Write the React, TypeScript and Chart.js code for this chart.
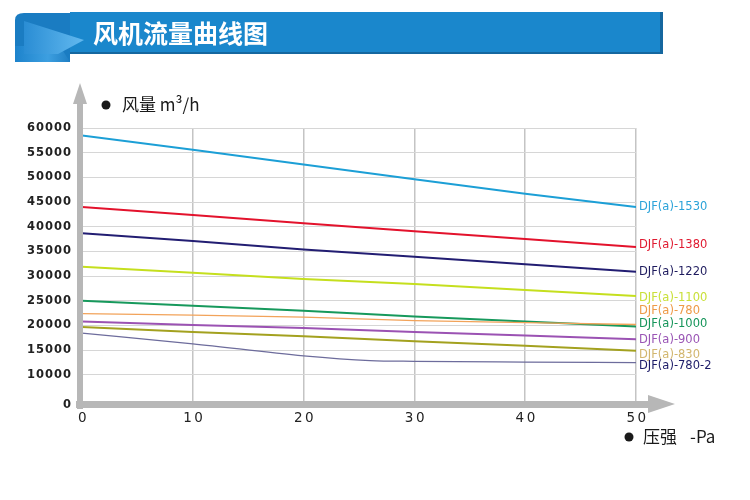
import React, { useEffect, useRef } from 'react';
import { Chart, registerables } from 'chart.js';

Chart.register(...registerables);

// ---------- data ----------
const pressure = [0, 10, 20, 30, 40, 50];
const pressure7802 = [0, 10, 20, 26, 30, 40, 50];

const seriesNames = [
  'DJF(a)-1530',
  'DJF(a)-1380',
  'DJF(a)-1220',
  'DJF(a)-1100',
  'DJF(a)-780',
  'DJF(a)-1000',
  'DJF(a)-900',
  'DJF(a)-830',
  'DJF(a)-780-2',
];

const flow1530 = [58500, 55600, 52600, 49600, 46700, 44000];
const flow1380 = [44000, 42400, 40700, 39100, 37500, 35900];
const flow1220 = [38700, 37100, 35400, 33900, 32400, 30900];
const flow1100 = [31900, 30700, 29400, 28400, 27200, 26000];
const flow780 = [22400, 22100, 21700, 21000, 20600, 20200];
const flow1000 = [25000, 24000, 23000, 21800, 20800, 19800];
const flow900 = [20800, 20100, 19500, 18700, 18000, 17200];
const flow830 = [19700, 18700, 17800, 16800, 15900, 14900];
const flow7802 = [18450, 16300, 13850, 12900, 12750, 12600, 12500];

const yTickValues = [10000, 15000, 20000, 25000, 30000, 35000, 40000, 45000, 50000, 55000, 60000];
const yZeroLabel = '0';
const yAxisBottom = 3900; // value at which the "0" label sits
const xTickValues = [0, 10, 20, 30, 40, 50];

const titleText = '风机流量曲线图';
const yTitle = '风量 m³/h';
const xTitleMain = '压强';
const xTitleUnit = '-Pa';

// ---------- styles ----------
const lineColors = ['#1c9fd6', '#e3122c', '#221d72', '#c5df1e', '#f2a35a', '#17995c', '#9b52b3', '#a3a11f', '#6d6c9c'];
const labelColors = ['#2ba3d9', '#e01a30', '#1e1b5e', '#c9e03a', '#ee9a48', '#16955a', '#9a55b5', '#d2b66e', '#1c1b68'];
const lineWidths = [2, 2, 2, 2, 1.3, 2, 2, 2, 1.3];
const labelOffsets = [0, -2, 0, 2, -14, -2, 1, 4, 3];

const decorPlugin = {
  id: 'decor',
  beforeDraw(chart: any) {
    const ctx = chart.ctx;
    ctx.save();
    ctx.fillStyle = '#ffffff';
    ctx.fillRect(0, 0, chart.width, chart.height);

    // left fold (behind)
    ctx.fillStyle = '#1a7cc2';
    ctx.beginPath();
    ctx.moveTo(15, 20);
    ctx.quadraticCurveTo(15, 13, 24, 13);
    ctx.lineTo(70, 13);
    ctx.lineTo(70, 62);
    ctx.lineTo(15, 62);
    ctx.closePath();
    ctx.fill();

    // banner main bar
    ctx.fillStyle = '#1a87cc';
    ctx.fillRect(70, 12, 593, 42);
    ctx.fillStyle = '#15679f';
    ctx.fillRect(660, 12, 3, 42);
    ctx.fillRect(70, 52, 593, 2);

    // lower fold strip
    const g2 = ctx.createLinearGradient(15, 0, 70, 0);
    g2.addColorStop(0, '#1d83cc');
    g2.addColorStop(0.6, '#3d9fe0');
    g2.addColorStop(1, '#1f7fc4');
    ctx.fillStyle = g2;
    ctx.beginPath();
    ctx.moveTo(15, 46);
    ctx.lineTo(60, 46);
    ctx.lineTo(70, 62);
    ctx.lineTo(15, 62);
    ctx.closePath();
    ctx.fill();

    // wedge
    const g = ctx.createLinearGradient(24, 0, 84, 0);
    g.addColorStop(0, '#2a8dd4');
    g.addColorStop(1, '#62b9ef');
    ctx.fillStyle = g;
    ctx.beginPath();
    ctx.moveTo(24, 21);
    ctx.lineTo(84, 40);
    ctx.lineTo(58, 54);
    ctx.lineTo(24, 54);
    ctx.closePath();
    ctx.fill();
    ctx.restore();

    // letter spacing for y tick labels (drawn by Chart.js)
    ctx.letterSpacing = '1px';
  },
  beforeDatasetsDraw(chart: any) {
    chart.ctx.letterSpacing = '0px';
  },
  afterDatasetsDraw(chart: any) {
    const ctx = chart.ctx;
    const { left, right, top, bottom } = chart.chartArea;
    const xs = chart.scales.x;
    ctx.save();
    ctx.letterSpacing = '0px';

    // thick gray axes with arrows
    ctx.fillStyle = '#b7b7b7';
    const ax = left - 2;
    ctx.fillRect(ax - 3, top - 26, 6, bottom - top + 30);
    ctx.beginPath();
    ctx.moveTo(ax - 7, top - 24);
    ctx.lineTo(ax, top - 45);
    ctx.lineTo(ax + 7, top - 24);
    ctx.closePath();
    ctx.fill();

    const ay = bottom - 1;
    ctx.fillRect(left - 6, ay - 3, right - left + 20, 7);
    ctx.beginPath();
    ctx.moveTo(right + 12, ay - 9);
    ctx.lineTo(right + 39, ay);
    ctx.lineTo(right + 12, ay + 9);
    ctx.closePath();
    ctx.fill();

    // x tick labels
    ctx.fillStyle = '#222222';
    ctx.font = '13.5px "DejaVu Sans"';
    ctx.textAlign = 'center';
    ctx.textBaseline = 'middle';
    ctx.letterSpacing = '2.5px';
    xTickValues.forEach((v) => {
      ctx.fillText(String(v), xs.getPixelForValue(v) + 1.5, bottom + 13);
    });
    ctx.letterSpacing = '0px';

    // series end labels
    ctx.font = '11.5px "DejaVu Sans"';
    ctx.textAlign = 'left';
    chart.data.datasets.forEach((ds: any, i: number) => {
      const meta = chart.getDatasetMeta(i);
      const pt = meta.data[meta.data.length - 1];
      ctx.fillStyle = labelColors[i];
      ctx.fillText(seriesNames[i], right + 3, pt.y + labelOffsets[i]);
    });

    // axis titles
    ctx.fillStyle = '#1a1a1a';
    ctx.beginPath();
    ctx.arc(left + 24, top - 23, 4.5, 0, Math.PI * 2);
    ctx.fill();
    ctx.font = '17px "Noto Sans CJK SC", "Noto Sans"';
    ctx.fillText(yTitle, left + 40, top - 23);

    ctx.beginPath();
    ctx.arc(right - 7, bottom + 32, 4.5, 0, Math.PI * 2);
    ctx.fill();
    ctx.fillText(xTitleMain, right + 7, bottom + 32);
    ctx.fillText(xTitleUnit, right + 54, bottom + 32);
    ctx.restore();
  },
};

function makeData() {
  const all = [flow1530, flow1380, flow1220, flow1100, flow780, flow1000, flow900, flow830, flow7802];
  return all.map((arr, i) => {
    const xsArr = arr === flow7802 ? pressure7802 : pressure;
    return {
      label: seriesNames[i],
      data: arr.map((v, j) => ({ x: xsArr[j], y: v })),
      borderColor: lineColors[i],
      backgroundColor: lineColors[i],
      borderWidth: lineWidths[i],
      pointRadius: 0,
      fill: false,
      cubicInterpolationMode: arr === flow7802 ? 'monotone' : 'default',
      tension: 0,
    };
  });
}

export default function App() {
  const canvasRef = useRef<HTMLCanvasElement | null>(null);

  useEffect(() => {
    const canvas = canvasRef.current;
    if (!canvas) return;
    const chart = new Chart(canvas, {
      type: 'line',
      data: { datasets: makeData() as any },
      options: {
        animation: false,
        responsive: false,
        devicePixelRatio: 1,
        layout: { padding: { left: 0, right: 114, top: 128, bottom: 0 } },
        plugins: { legend: { display: false }, tooltip: { enabled: false }, title: { display: false } },
        scales: {
          x: {
            type: 'linear',
            min: 0,
            max: 50,
            afterBuildTicks: (s: any) => {
              s.ticks = xTickValues.map((v) => ({ value: v }));
            },
            afterFit: (s: any) => {
              s.height = 95;
            },
            grid: {
              color: (c: any) => (c.tick && c.tick.value === 0 ? 'rgba(0,0,0,0)' : '#c4c4c4'),
              lineWidth: 1.5,
              drawTicks: false,
            },
            border: { display: false },
            ticks: { display: false },
          },
          y: {
            type: 'linear',
            min: yAxisBottom,
            max: 60000,
            afterBuildTicks: (s: any) => {
              s.ticks = [yAxisBottom, ...yTickValues].map((v) => ({ value: v }));
            },
            afterFit: (s: any) => {
              s.width = 82;
            },
            grid: {
              color: (c: any) => (c.tick && c.tick.value === yAxisBottom ? 'rgba(0,0,0,0)' : '#d6d6d6'),
              lineWidth: 1,
              drawTicks: false,
            },
            border: { display: false },
            ticks: {
              padding: 10,
              color: '#222222',
              font: { family: '"DejaVu Sans"', size: 11.5, weight: 'bold' },
              callback: (v: any) => (v === yAxisBottom ? yZeroLabel : String(v)),
            },
          },
        },
      },
      plugins: [decorPlugin],
    });
    return () => chart.destroy();
  }, []);

  return (
    <div style={{ position: 'fixed', left: 0, top: 0, width: 750, height: 500, background: '#fff' }}>
      <canvas ref={canvasRef} width={750} height={500} style={{ width: 750, height: 500, display: 'block' }} />
      <div
        style={{
          position: 'absolute',
          left: 93,
          top: 18,
          fontFamily: '"Noto Sans CJK SC", sans-serif',
          fontWeight: 'bold',
          fontSize: 25,
          lineHeight: '28px',
          color: '#ffffff',
          whiteSpace: 'nowrap',
        }}
      >
        {titleText}
      </div>
    </div>
  );
}
